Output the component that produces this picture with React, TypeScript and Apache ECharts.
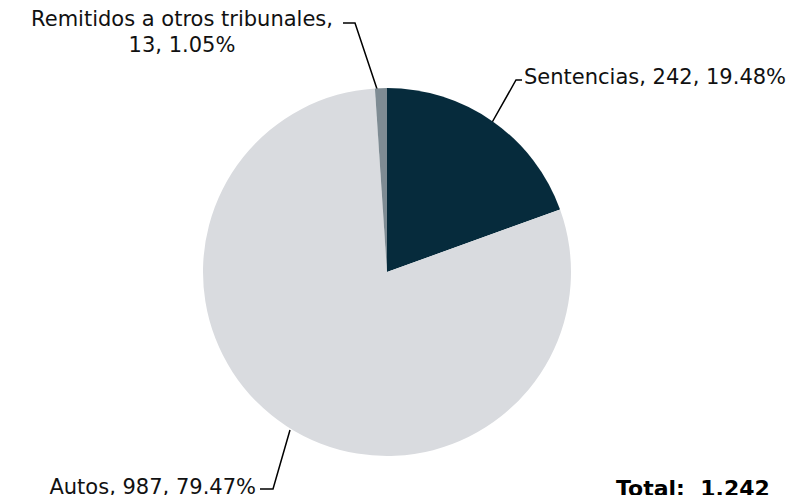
import React, { useEffect, useRef } from "react";
import * as echarts from "echarts";

const categories = ["Sentencias", "Autos", "Remitidos a otros tribunales"];
const values = [242, 987, 13];
const colors = ["#062B3C", "#D9DBDF", "#7E8B93"];
const totalLabel = "Total:  1,242";

const FONT = "'DejaVu Sans', sans-serif";

export default function App() {
  const ref = useRef<HTMLDivElement>(null);
  useEffect(() => {
    const chart = echarts.init(ref.current!, null, { renderer: "svg" });
    const labelPos: any[] = [
      { x: 524, y: 77, align: "left", verticalAlign: "middle", labelLinePoints: [[490, 126], [516, 80], [522, 80]] },
      { x: 256, y: 487, align: "right", verticalAlign: "middle", labelLinePoints: [[290, 430], [273, 489], [260, 489]] },
      { x: 182, y: 32, align: "center", verticalAlign: "middle", labelLinePoints: [[378, 92], [355, 23], [343, 23]] },
    ];
    chart.setOption({
      animation: false,
      title: {
        text: totalLabel,
        left: 611,
        top: 472,
        textStyle: { fontFamily: FONT, fontWeight: "bold", fontSize: 22, color: "#000" },
      },
      series: [
        {
          type: "pie",
          center: [387, 272],
          radius: 184,
          startAngle: 90,
          clockwise: true,
          percentPrecision: 2,
          data: categories.map((c, i) => ({ name: c, value: values[i], itemStyle: { color: colors[i] } })),
          label: {
            show: true,
            fontFamily: FONT,
            fontSize: 21,
            color: "#111",
            lineHeight: 26,
            formatter: (p: any) =>
              p.dataIndex === 2
                ? `${p.name},\n${p.value}, ${p.percent.toFixed(2)}%`
                : `${p.name}, ${p.value}, ${p.percent.toFixed(2)}%`,
          },
          labelLine: { show: true, lineStyle: { color: "#000", width: 1.5 } },
          labelLayout: (params: any) => labelPos[params.dataIndex],
          emphasis: { disabled: true },
        },
      ],
    });
    return () => chart.dispose();
  }, []);
  return <div ref={ref} style={{ width: 809, height: 503, margin: -8 }} />;
}
